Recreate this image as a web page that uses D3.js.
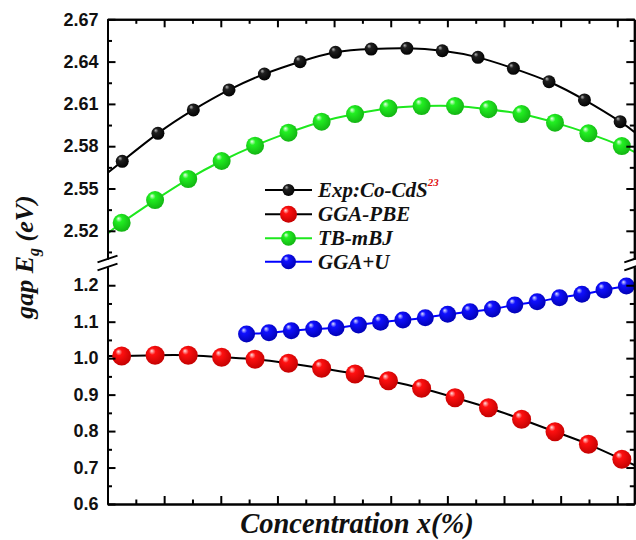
<!DOCTYPE html>
<html>
<head>
<meta charset="utf-8">
<script src="https://cdn.jsdelivr.net/npm/d3@7"></script>
<style>
  body { margin: 0; background: #fff; }
  svg { display: block; }
</style>
</head>
<body>
<div id="chart"></div>
<script>
// concentration positions (arbitrary units: one minor x tick = 1)
const expX = [0.52, 1.78, 3.03, 4.29, 5.54, 6.80, 8.05, 9.31, 10.57, 11.82, 13.08, 14.33, 15.59, 16.84, 18.10];
const expGap = [2.5693, 2.5891, 2.6057, 2.6199, 2.6312, 2.6399, 2.6466, 2.6489, 2.6494, 2.6477, 2.6430, 2.6352, 2.6257, 2.6128, 2.5974];
const expEdge = [2.561, 2.590];   // fit curve where it meets the left / right frame

const calcX = [0.50, 1.68, 2.85, 4.03, 5.21, 6.39, 7.56, 8.74, 9.92, 11.09, 12.27, 13.45, 14.62, 15.80, 16.98, 18.16];
const mbjGap = [2.5257, 2.5418, 2.5567, 2.5695, 2.5804, 2.5896, 2.5974, 2.6028, 2.6069, 2.6085, 2.6085, 2.6062, 2.6028, 2.5967, 2.5891, 2.5801];
const mbjEdge = [2.518, 2.576];
const pbeGap = [1.0060, 1.0078, 1.0078, 1.0024, 0.9969, 0.9859, 0.9722, 0.9566, 0.9382, 0.9173, 0.8915, 0.8641, 0.8323, 0.7983, 0.7637, 0.7226];
const pbeEdge = [1.006, 0.707];

const guX = [4.91, 5.70, 6.49, 7.28, 8.07, 8.86, 9.64, 10.43, 11.22, 12.01, 12.80, 13.59, 14.38, 15.17, 15.96, 16.75, 17.53, 18.32];
const guGap = [1.0663, 1.0698, 1.0753, 1.0800, 1.0835, 1.0910, 1.0984, 1.1047, 1.1110, 1.1203, 1.1274, 1.1348, 1.1458, 1.1549, 1.1658, 1.1752, 1.1869, 1.1979];

const upperTicks = [2.52, 2.55, 2.58, 2.61, 2.64, 2.67];
const upperMinor = [2.505, 2.535, 2.565, 2.595, 2.625, 2.655];
const lowerTicks = [0.6, 0.7, 0.8, 0.9, 1.0, 1.1, 1.2];
const lowerMinor = [0.65, 0.75, 0.85, 0.95, 1.05, 1.15];
const xMajor = [0, 2, 4, 6, 8, 10, 12, 14, 16, 18];
const xMinor = [1, 3, 5, 7, 9, 11, 13, 15, 17];

const legendNames = ["Exp:Co-CdS", "GGA-PBE", "TB-mBJ", "GGA+U"];

const W = 636, H = 540;
const mLeft = 107.5, mRight = 634.3, mTop = 19.3, mBottom = 504;
const upBottom = 259, lowTop = 267;

const x = d3.scaleLinear().domain([0, 18.6]).range([mLeft, mRight]);
const yUp = d3.scaleLinear().domain([2.50, 2.67]).range([upBottom, mTop]);
const yLow = d3.scaleLinear().domain([0.6, 1.25]).range([mBottom, lowTop]);

const svg = d3.select("#chart").append("svg").attr("width", W).attr("height", H);

const defs = svg.append("defs");
function sphere(id, hi, mid, dark) {
  const g = defs.append("radialGradient").attr("id", id)
    .attr("cx", "0.45").attr("cy", "0.42").attr("r", "0.62")
    .attr("fx", "0.32").attr("fy", "0.26");
  g.append("stop").attr("offset", "0").attr("stop-color", hi);
  g.append("stop").attr("offset", "0.28").attr("stop-color", mid);
  g.append("stop").attr("offset", "1").attr("stop-color", dark);
}
sphere("gBlack", "#b8b8b8", "#202020", "#000");
sphere("gRed", "#ffe0e0", "#ff1010", "#c00000");
sphere("gGreen", "#eaffea", "#22f022", "#12b012");
sphere("gBlue", "#dde0ff", "#1010ff", "#0000b0");

defs.append("clipPath").attr("id", "clipUp").append("rect")
  .attr("x", mLeft).attr("y", mTop).attr("width", mRight - mLeft).attr("height", upBottom - mTop);
defs.append("clipPath").attr("id", "clipLow").append("rect")
  .attr("x", mLeft).attr("y", lowTop).attr("width", mRight - mLeft).attr("height", mBottom - lowTop);

const series = [
  { xs: expX, ys: expGap, edge: expEdge, y: yUp, clip: "clipUp", line: "#000", fill: "url(#gBlack)", r: 6.5, lr: 6 },
  { xs: calcX, ys: pbeGap, edge: pbeEdge, y: yLow, clip: "clipLow", line: "#000", fill: "url(#gRed)", r: 9.5, lr: 8.5 },
  { xs: calcX, ys: mbjGap, edge: mbjEdge, y: yUp, clip: "clipUp", line: "#1ee81e", fill: "url(#gGreen)", r: 9, lr: 7.5 },
  { xs: guX, ys: guGap, edge: null, y: yLow, clip: "clipLow", line: "#0000ff", fill: "url(#gBlue)", r: 8.5, lr: 7.5 }
];

// curves
series.forEach(s => {
  let pts = s.xs.map((v, i) => [v, s.ys[i]]);
  if (s.edge) pts = [[0, s.edge[0]]].concat(pts, [[18.6, s.edge[1]]]);
  svg.append("path")
    .attr("clip-path", `url(#${s.clip})`)
    .attr("d", d3.line().x(d => x(d[0])).y(d => s.y(d[1])).curve(d3.curveNatural)(pts))
    .attr("fill", "none").attr("stroke", s.line).attr("stroke-width", 2);
});

// markers
series.forEach(s => {
  svg.append("g").selectAll("circle")
    .data(s.xs.map((v, i) => [v, s.ys[i]]))
    .enter().append("circle")
    .attr("cx", d => x(d[0])).attr("cy", d => s.y(d[1]))
    .attr("r", s.r).attr("fill", s.fill);
});

// axes
function styleAxis(g) {
  g.selectAll("path.domain").attr("stroke", "#000").attr("stroke-width", 2);
  g.selectAll(".tick line").attr("stroke", "#000").attr("stroke-width", 2);
  g.selectAll("text").style("font-family", '"Liberation Sans", Arial, sans-serif')
    .style("font-weight", "bold").style("font-size", "18px").attr("fill", "#111");
}
function axes(axis, scale, major, minor, pos, labels, fmt) {
  const gM = svg.append("g").attr("transform", pos)
    .call(axis(scale).tickValues(major).tickSize(-8).tickSizeOuter(0).tickPadding(9)
      .tickFormat(labels ? d3.format(fmt) : ""));
  styleAxis(gM);
  const gm = svg.append("g").attr("transform", pos)
    .call(axis(scale).tickValues(minor).tickSize(-4.5).tickSizeOuter(0).tickFormat(""));
  styleAxis(gm);
}
axes(d3.axisLeft, yUp, upperTicks, upperMinor, `translate(${mLeft},0)`, true, ".2f");
axes(d3.axisLeft, yLow, lowerTicks, lowerMinor, `translate(${mLeft},0)`, true, ".1f");
axes(d3.axisRight, yUp, upperTicks, upperMinor, `translate(${mRight},0)`, false);
axes(d3.axisRight, yLow, lowerTicks, lowerMinor, `translate(${mRight},0)`, false);
axes(d3.axisBottom, x, xMajor, xMinor, `translate(0,${mBottom})`, false);
axes(d3.axisTop, x, xMajor, xMinor, `translate(0,${mTop})`, false);

// axis break marks
[mLeft, mRight].forEach(ax => {
  [upBottom, lowTop].forEach(yy => {
    svg.append("line")
      .attr("x1", ax - 10).attr("y1", yy + 3.4)
      .attr("x2", ax + 10).attr("y2", yy - 3.4)
      .attr("stroke", "#000").attr("stroke-width", 2);
  });
});

// serif bold italic text helper
function serifText(sel, size) {
  return sel.style("font-family", '"Liberation Serif"')
    .style("font-weight", "bold").style("font-style", "italic")
    .style("font-size", size + "px").attr("fill", "#111");
}

// axis titles
const yt = serifText(svg.append("text"), 26)
  .attr("transform", "translate(33,257) rotate(-90)")
  .attr("text-anchor", "middle");
yt.append("tspan").text("gap E");
yt.append("tspan").style("font-size", "16px").attr("dy", 6).text("g");
yt.append("tspan").attr("dy", -6).text(" (eV)");

serifText(svg.append("text"), 28.5)
  .attr("x", 357).attr("y", 533)
  .attr("text-anchor", "middle")
  .text("Concentration x(%)");

// legend
const legRows = [190, 214.3, 238.3, 261.7];
const leg = svg.append("g");
series.forEach((s, i) => {
  const yy = legRows[i];
  leg.append("line").attr("x1", 265).attr("x2", 312).attr("y1", yy).attr("y2", yy)
    .attr("stroke", s.line).attr("stroke-width", 2);
  leg.append("circle").attr("cx", 288.5).attr("cy", yy).attr("r", s.lr).attr("fill", s.fill);
  const t = serifText(leg.append("text"), 21).attr("x", 318).attr("y", yy + 7);
  t.append("tspan").text(legendNames[i]);
  if (i === 0) {
    t.append("tspan").attr("dy", -11).style("font-size", "11px").attr("fill", "#e01010").text("23");
  }
});
</script>
</body>
</html>
